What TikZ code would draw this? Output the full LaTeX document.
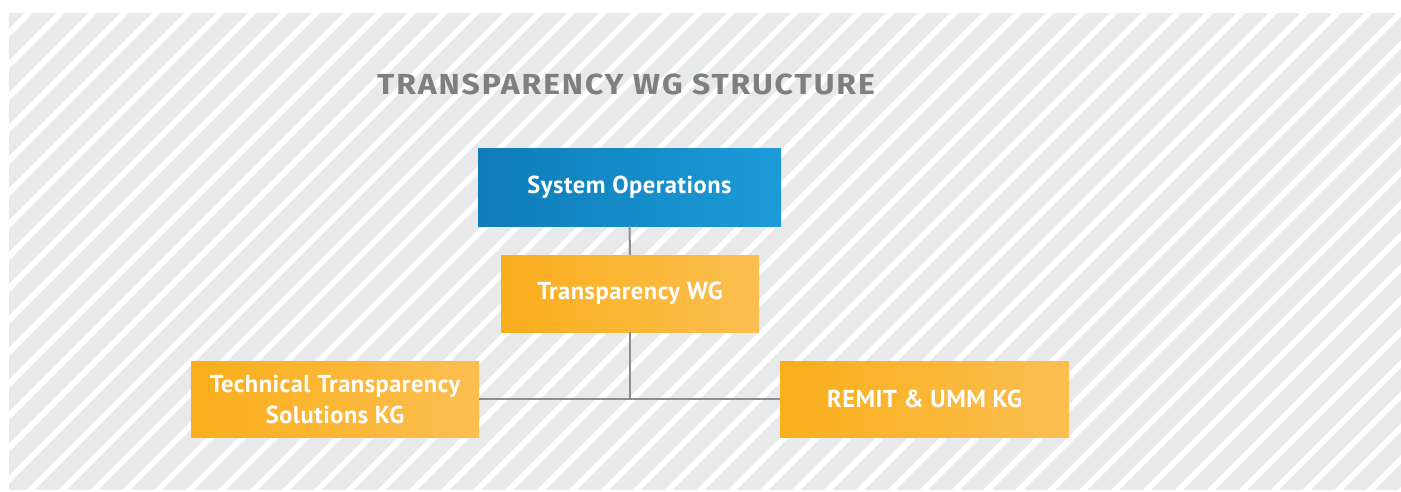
\documentclass[tikz,border=0pt]{standalone}
\usepackage{fontspec}
\setmainfont[LetterSpace=2]{PT Sans}
\newfontfamily\titlefont[LetterSpace=6]{Fira Sans}
\definecolor{panelgray}{HTML}{E8E9EB}
\definecolor{blueL}{HTML}{0E7CB8}
\definecolor{blueR}{HTML}{1B9BD8}
\definecolor{orangeL}{HTML}{F9AE1B}
\definecolor{orangeR}{HTML}{FCBE50}
\definecolor{linkgray}{HTML}{8C8C8C}
\definecolor{titlegray}{HTML}{7E7F80}
\begin{document}
\begin{tikzpicture}[x=1pt,y=-1pt,
  boxtext/.style={text=white,font=\fontsize{24.5}{31}\selectfont\bfseries,align=center,inner sep=0pt},
  bluebox/.style={boxtext,left color=blueL,right color=blueR},
  orangebox/.style={boxtext,left color=orangeL,right color=orangeR},
  link/.style={draw=linkgray,line width=2pt}]
\useasboundingbox (0,0) rectangle (1401,492);
% striped backdrop
\begin{scope}
  \clip (9,13) rectangle (1401,490);
  \fill[panelgray] (9,13) rectangle (1401,490);
  \foreach \k in {-1,...,59}{
    \pgfmathsetmacro\c{42+31.9*\k}
    \draw[white,line width=5.8pt] (\c-5,5) -- (\c-500,500);
  }
\end{scope}
% heading
\node[anchor=base,text=titlegray,inner sep=0pt]
  (title) at (626,95) {\scalebox{1.1}[1]{\titlefont\fontsize{29}{29}\selectfont\bfseries TRANSPARENCY WG STRUCTURE}};
% boxes
\node[bluebox,minimum width=303pt,minimum height=77pt] (so) at (629.5,187.5) {System Operations};
\node[orangebox,minimum width=258pt,minimum height=77pt] (twg) at (630,293.5) {Transparency WG};
\node[orangebox,minimum width=288pt,minimum height=76pt] (tts) at (335,399) {Technical Transparency\\Solutions KG};
\node[orangebox,minimum width=289pt,minimum height=76pt] (remit) at (924.5,399) {REMIT \& UMM KG};
% connectors
\draw[link] (so.south) -- (twg.north);
\draw[link] (tts.east) -- (remit.west);
\draw[link] (twg.south) -- (twg.south |- tts.east);
\end{tikzpicture}
\end{document}
